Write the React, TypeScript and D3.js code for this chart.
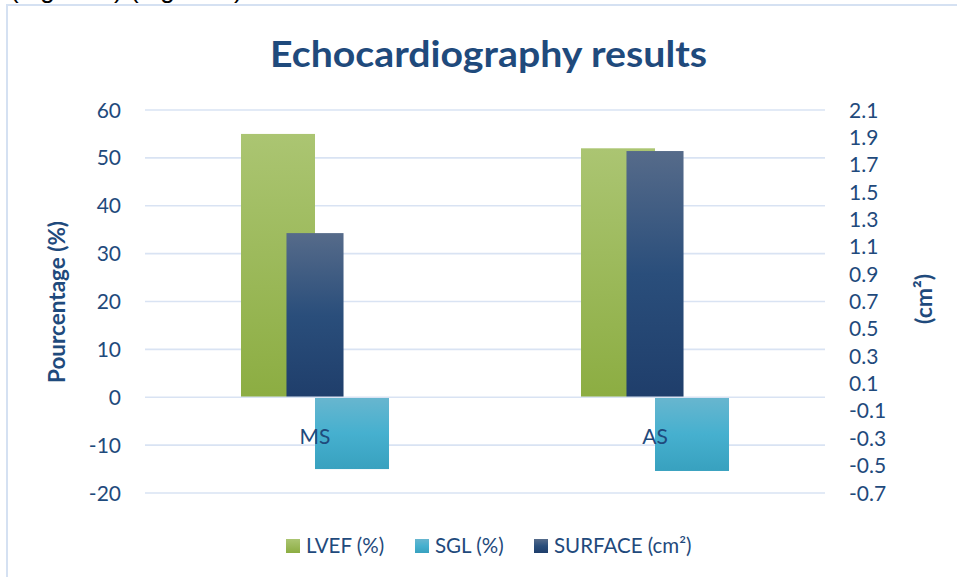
import React from "react";
import * as d3 from "d3";

const categories = ["MS", "AS"];
const lvef = [55, 52];
const sgl = [-15, -15.4];
const surface = [1.2, 1.8];
const leftTicks = [60, 50, 40, 30, 20, 10, 0, -10, -20];
const rightTicks = [2.1, 1.9, 1.7, 1.5, 1.3, 1.1, 0.9, 0.7, 0.5, 0.3, 0.1, -0.1, -0.3, -0.5, -0.7];
const legendItems = [
  { key: "lvef", label: "LVEF (%)", grad: "gGreen" },
  { key: "sgl", label: "SGL (%)", grad: "gCyan" },
  { key: "surface", label: "SURFACE (cm²)", grad: "gBlue" },
];

const W = 957;
const H = 577;
const TEXT = "#1f4a7c";
const GRID = "#d9e3f3";
const FONT = "Lato, 'Open Sans', sans-serif";

export default function App() {
  const plotL = 145, plotR = 825, plotT = 110, plotB = 493;
  const yL = d3.scaleLinear().domain([-20, 60]).range([plotB, plotT]);
  const yR = d3.scaleLinear().domain([-0.7, 2.1]).range([plotB, plotT]);
  const x0 = d3.scaleBand<string>().domain(categories).range([plotL, plotR]).padding(0);
  const x1 = d3.scaleBand<string>().domain(["lvef", "sgl"]).range([0, x0.bandwidth()]).paddingInner(0).paddingOuter(1.297);
  const x2 = d3.scaleBand<string>().domain(["surface"]).range([0, x0.bandwidth()]).paddingInner(0).paddingOuter(2.48);

  const legendX = [286, 415, 534];

  return (
    <svg width={W} height={H} style={{ position: "absolute", left: 0, top: 0, background: "#fff" }} fontFamily={FONT}>
      <defs>
        <linearGradient id="gGreen" x1="0" y1="0" x2="0" y2="1">
          <stop offset="0" stopColor="#abc572" />
          <stop offset="1" stopColor="#8cad42" />
        </linearGradient>
        <linearGradient id="gCyan" x1="0" y1="0" x2="0" y2="1">
          <stop offset="0" stopColor="#68b6cf" />
          <stop offset="0.5" stopColor="#46b0cf" />
          <stop offset="1" stopColor="#38a1bf" />
        </linearGradient>
        <linearGradient id="gBlue" x1="0" y1="0" x2="0" y2="1">
          <stop offset="0" stopColor="#566b8a" />
          <stop offset="0.5" stopColor="#2a4e7b" />
          <stop offset="1" stopColor="#1f3e6b" />
        </linearGradient>
      </defs>
      <text x={10} y={-2} fontSize={26} fill="#000" fontFamily="'Liberation Sans', sans-serif">(Figure 1) (Figure 2)</text>
      <rect x={7} y={5} width={1000} height={700} fill="none" stroke="#d5e1f2" strokeWidth={2} />

      <text x={488.5} y={66.5} textAnchor="middle" fontSize={36} fontWeight="bold" fill={TEXT} textLength={437} lengthAdjust="spacingAndGlyphs">Echocardiography results</text>

      {leftTicks.filter((t) => t !== 0).map((t) => (
        <line key={"g" + t} x1={plotL} x2={plotR} y1={yL(t)} y2={yL(t)} stroke={GRID} strokeWidth={1.6} />
      ))}
      {leftTicks.map((t) => (
        <text key={"l" + t} x={121} y={yL(t)} dy="0.36em" textAnchor="end" fontSize={21} fill={TEXT}>{t}</text>
      ))}
      {rightTicks.map((t) => (
        <text key={"r" + t} x={849} y={yR(t)} dy="0.36em" textAnchor="start" fontSize={21} fill={TEXT}>{t.toFixed(1)}</text>
      ))}

      {categories.map((c, i) => {
        const bx = x0(c)!;
        return (
          <g key={c}>
            <rect x={bx + x1("lvef")!} y={yL(lvef[i])} width={x1.bandwidth()} height={yL(0) - yL(lvef[i])} fill="url(#gGreen)" />
            <rect x={bx + x1("sgl")!} y={yL(0)} width={x1.bandwidth()} height={yL(sgl[i]) - yL(0)} fill="url(#gCyan)" />
            <rect x={bx + x2("surface")!} y={yR(surface[i])} width={x2.bandwidth()} height={yR(0) - yR(surface[i])} fill="url(#gBlue)" />
          </g>
        );
      })}
      <line x1={plotL} x2={plotR} y1={yL(0)} y2={yL(0)} stroke={GRID} strokeWidth={1.6} />

      {categories.map((c) => (
        <text key={"c" + c} x={x0(c)! + x0.bandwidth() / 2} y={444} textAnchor="middle" fontSize={21} fill={TEXT}>{c}</text>
      ))}

      <text transform={`translate(57,302) rotate(-90)`} textAnchor="middle" dy="0.35em" fontSize={22.5} fontWeight="bold" fill={TEXT}>Pourcentage (%)</text>
      <text transform={`translate(924,299) rotate(-90)`} textAnchor="middle" dy="0.35em" fontSize={23} fontWeight="bold" fill={TEXT}>(cm²)</text>

      {legendItems.map((it, i) => (
        <g key={it.key}>
          <rect x={legendX[i]} y={539} width={14} height={14} fill={`url(#${it.grad})`} />
          <text x={legendX[i] + 20} y={552.5} fontSize={20.5} fill={TEXT}>{it.label}</text>
        </g>
      ))}
    </svg>
  );
}
